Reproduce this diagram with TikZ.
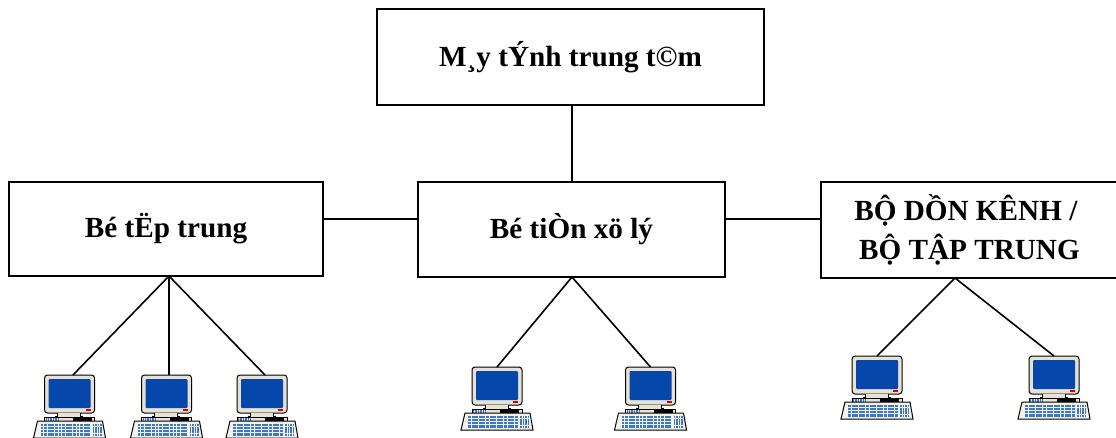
\documentclass[tikz,border=0pt]{standalone}
\usepackage{fontspec}
\usetikzlibrary{calc}
\setmainfont{Liberation Serif}
\definecolor{scr}{HTML}{0547AB}
\definecolor{body}{HTML}{E8E2D4}
\definecolor{keyb}{HTML}{3A78CC}
\newcommand\uptext[1]{\raisebox{3pt}{#1}}
\tikzset{
  box/.style={draw=black,line width=1.8pt,fill=white,inner sep=0pt,align=center,font=\fontsize{29.2}{38.5}\selectfont\bfseries},
  wire/.style={draw=black,line width=1.6pt},
  pc/.style={draw=black,line width=1pt,fill=body},
  computer/.pic={
    % origin = middle of monitor's top edge
    \coordinate (-top) at (0,0);
    \draw[pc,rounded corners=3pt] (-25,0) rectangle (25,38);
    \fill[scr,rounded corners=1pt] (-21,4) rectangle (21,33);
    \fill[red!85!black] (16,34) rectangle (21,36);
    \draw[pc,line width=.6pt] (-12,38) -- (-12,41) -- (-14,41) -- (-14,43) -- (13,43) -- (13,41) -- (11,41) -- (11,38);
    \draw[pc,line width=.6pt] (-25,42) rectangle (25,46);
    \fill[black] (3,43) rectangle (22,45.5);
    \foreach \i in {0,...,5} \fill[keyb] (-24+2.4*\i,43) rectangle ++(1.4,2.5);
    \draw[pc,fill=body!45!white] (-36,63) -- (-32,46) -- (33,46) -- (36,63) -- cycle;
    \foreach \r in {0,1,2,3} \foreach \i in {0,...,13}
      \fill[keyb] (-29+3.6*\i,48.5+3.2*\r) rectangle ++(2.9,2.4);
    \foreach \r in {0,1,2,3} \foreach \i in {0,...,3}
      \fill[keyb] (23+2.5*\i,49+3.2*\r) rectangle ++(1.8,2.4);
  }
}
\begin{document}
\begin{tikzpicture}[x=1pt,y=-1pt]
\useasboundingbox (0,0) rectangle (1116,437);
\clip (0,0) rectangle (1116,437);
\node[box,minimum width=387pt,minimum height=96pt] (cpu) at (570.5,57) {\uptext{M¸y tÝnh trung t©m}};
\node[box,minimum width=314pt,minimum height=94pt] (tt) at (166,229) {\uptext{Bé tËp trung}};
\node[box,minimum width=307pt,minimum height=95pt] (fep) at (571.5,229.5) {\uptext{Bé tiÒn xö lý}};
\node[box,minimum width=297pt,minimum height=96pt] (mux) at (969.5,230) {BỘ DỒN KÊNH /~~\\BỘ TẬP TRUNG};
\coordinate (wirey) at (0,219);
\coordinate (ttb) at (169,276);
\coordinate (fepb) at (572,277);
\coordinate (muxb) at (955,278);
\coordinate (cpub) at (572,105);
\coordinate (fept) at (572,182);
\path (69.5,375) pic (p1) {computer} (166.5,375) pic (p2) {computer} (262,375) pic (p3) {computer};
\path (497,367) pic (p4) {computer} (650.5,367) pic (p5) {computer};
\path (877,356) pic (p6) {computer} (1054,356) pic (p7) {computer};
\draw[wire] (cpub) -- (fept);
\draw[wire] (tt.east |- wirey) -- (fep.west |- wirey);
\draw[wire] (fep.east |- wirey) -- (mux.west |- wirey);
\draw[wire] (ttb) -- ($(p1-top)+(3.5,0)$);
\draw[wire] (ttb) -- ($(p2-top)+(2.5,0)$);
\draw[wire] (ttb) -- ($(p3-top)+(3,0)$);
\draw[wire] (fepb) -- (p4-top);
\draw[wire] (fepb) -- (p5-top);
\draw[wire] (muxb) -- (p6-top);
\draw[wire] (muxb) -- (p7-top);
\end{tikzpicture}
\end{document}
